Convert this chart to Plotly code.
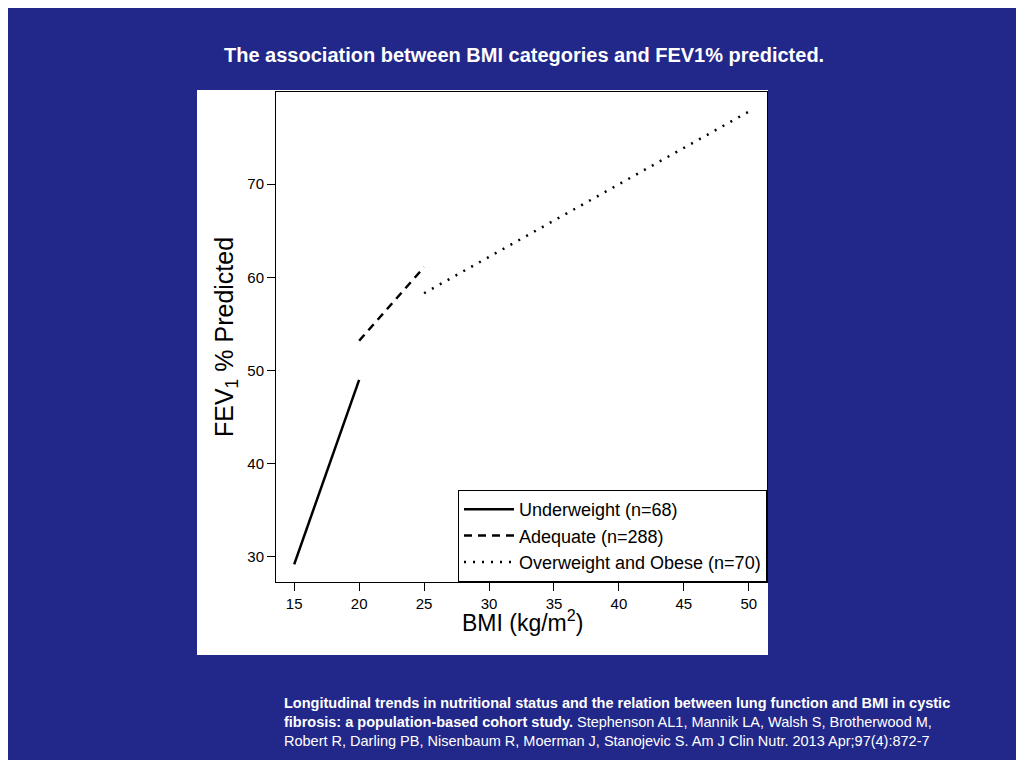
import plotly.graph_objects as go

# the page adds an 8px margin, so work in a 1008x752 canvas shifted by 8px
W, H = 1008, 752
OFF = 8

under_bmi = [15, 20]
under_fev = [29.2, 49.0]
adeq_bmi = [20, 25]
adeq_fev = [53.2, 61.1]
over_bmi = [25, 50]
over_fev = [58.3, 77.8]

names = ["Underweight (n=68)", "Adequate (n=288)", "Overweight and Obese (n=70)"]
x_ticks = [15, 20, 25, 30, 35, 40, 45, 50]
y_ticks = [30, 40, 50, 60, 70]

L, R, T, B = 276 - OFF, 767 - OFF, 92 - OFF, 582 - OFF
PW, PH = R - L, B - T


def px(x):
    return (x - OFF - L) / PW


def py(y):
    return (B - (y - OFF)) / PH


fig = go.Figure()
fig.add_trace(go.Scatter(x=under_bmi, y=under_fev, mode="lines", name=names[0],
                         line=dict(color="black", width=2.5, dash="solid")))
fig.add_trace(go.Scatter(x=adeq_bmi, y=adeq_fev, mode="lines", name=names[1],
                         line=dict(color="black", width=2.5, dash="8px,6px")))
fig.add_trace(go.Scatter(x=over_bmi, y=over_fev, mode="lines", name=names[2],
                         line=dict(color="black", width=2.5, dash="2px,7px")))

# white image area behind the plot
fig.add_shape(type="rect", xref="paper", yref="paper", layer="below",
              x0=px(197), x1=px(768), y0=py(655), y1=py(90),
              fillcolor="white", line=dict(width=0))

fig.update_layout(
    width=W, height=H,
    margin=dict(l=L, r=W - R, t=T, b=H - B),
    paper_bgcolor="#22278a", plot_bgcolor="white",
    font=dict(family="Liberation Sans, Arial", color="black"),
    showlegend=True,
    legend=dict(x=1, y=0, xanchor="right", yanchor="bottom",
                bgcolor="white", bordercolor="black", borderwidth=1,
                font=dict(size=18), itemwidth=50, tracegroupgap=0),
)
fig.update_xaxes(range=[13.6, 51.4], tickvals=x_ticks, showgrid=False, zeroline=False,
                 showline=True, linecolor="black", mirror=True, ticks="outside",
                 ticklen=8, tickcolor="black", tickfont=dict(size=15))
fig.update_yaxes(range=[27.3, 79.9], tickvals=y_ticks, showgrid=False, zeroline=False,
                 showline=True, linecolor="black", mirror=True, ticks="outside",
                 ticklen=8, tickcolor="black", tickfont=dict(size=15))

fig.add_annotation(text="<b>The association between BMI categories and FEV1% predicted.</b>",
                   xref="paper", yref="paper", x=px(524), y=py(42),
                   showarrow=False, font=dict(size=20, color="white"))
fig.add_annotation(text="FEV<sub>1</sub> % Predicted", textangle=-90,
                   xref="paper", yref="paper", x=px(208), y=py(337),
                   showarrow=False, font=dict(size=25, color="black"))
fig.add_annotation(text="BMI (kg/m<sup>2</sup>)",
                   xref="paper", yref="paper", x=px(522), y=py(638),
                   showarrow=False, font=dict(size=23, color="black"))
fig.add_annotation(
    text="<b>Longitudinal trends in nutritional status and the relation between lung function and BMI in cystic</b><br>"
         "<b>fibrosis: a population-based cohort study.</b> Stephenson AL1, Mannik LA, Walsh S, Brotherwood M,<br>"
         "Robert R, Darling PB, Nisenbaum R, Moerman J, Stanojevic S. Am J Clin Nutr. 2013 Apr;97(4):872-7",
    xref="paper", yref="paper", x=px(282), y=py(722),
    xanchor="left", yanchor="middle", align="left", showarrow=False,
    font=dict(size=14.5, color="white"))

fig.write_html("out.html")
